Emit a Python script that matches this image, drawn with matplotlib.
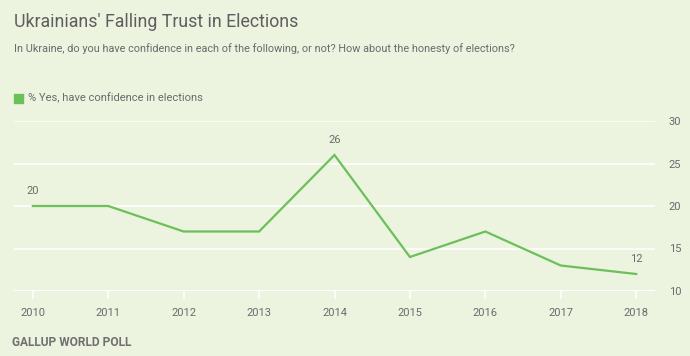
import matplotlib.pyplot as plt

years = [2010, 2011, 2012, 2013, 2014, 2015, 2016, 2017, 2018]
confidence = [20, 20, 17, 17, 26, 14, 17, 13, 12]
labeled_years = [2010, 2014, 2018]
y_ticks = [10, 15, 20, 25, 30]

bg = "#ecf3df"
green = "#6cc05a"
grey = "#6b6b6b"

plt.rcParams["font.family"] = ["Roboto", "DejaVu Sans"]

fig = plt.figure(figsize=(6.9, 3.56), dpi=100, facecolor=bg)
ax = fig.add_axes([14 / 690, 1 - 291 / 356, 641 / 690, 170 / 356])
ax.set_facecolor(bg)

ax.plot(years, confidence, color=green, lw=1.6, solid_joinstyle="miter", zorder=3)
for yr, v in zip(years, confidence):
    if yr in labeled_years:
        ax.annotate(str(v), (yr, v), xytext=(0, 7), textcoords="offset points",
                    ha="center", va="bottom", fontsize=8, color=grey)

ax.set_xlim(2009.75, 2018.25)
ax.set_ylim(10, 30)
for t in y_ticks:
    ax.axhline(t, color="white", lw=1.5 if t == 10 else 1.2, zorder=1)

for s in ax.spines.values():
    s.set_visible(False)
ax.set_xticks(years)
ax.set_xticklabels([str(y) for y in years])
ax.tick_params(axis="x", length=6, width=1.2, color="white", pad=6,
               labelsize=8, labelcolor=grey, direction="out")
ax.yaxis.tick_right()
ax.set_yticks(y_ticks)
ax.tick_params(axis="y", length=0, pad=10, labelsize=8, labelcolor=grey)

fig.text(14 / 690, 1 - 22 / 356, "Ukrainians' Falling Trust in Elections",
         fontsize=12.8, color="#5e5e5e", va="center", ha="left")
fig.text(14 / 690, 1 - 49 / 356,
         "In Ukraine, do you have confidence in each of the following, or not? How about the honesty of elections?",
         fontsize=7.85, color=grey, va="center", ha="left")
fig.patches.append(plt.Rectangle((14 / 690, 1 - 103 / 356), 9 / 690, 9 / 356,
                                 transform=fig.transFigure, color=green))
fig.text(28 / 690, 1 - 98 / 356, "% Yes, have confidence in elections",
         fontsize=8, color=grey, va="center", ha="left")
fig.text(12 / 690, 1 - 343 / 356, "GALLUP WORLD POLL",
         fontsize=8.6, color="#707070", va="center", ha="left", fontweight="bold")

fig.savefig("out.png", dpi=100, facecolor=bg)
